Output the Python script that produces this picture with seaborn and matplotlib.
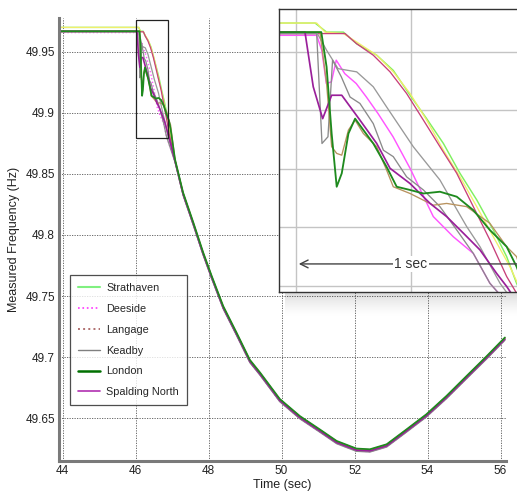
import numpy as np
import pandas as pd
import matplotlib
matplotlib.use("Agg")
import matplotlib.pyplot as plt
from matplotlib.lines import Line2D
from matplotlib.patches import Rectangle
import seaborn as sns

# ---------------- data ----------------
# shared post-transient trajectory (sec, Hz)
TAIL_T = [47.08, 47.30, 47.58, 47.85, 48.08, 48.40, 48.77, 49.13, 49.41, 49.95, 50.50,
          51.05, 51.51, 52.05, 52.42, 52.88, 53.42, 53.97, 54.52, 55.07, 55.62, 56.12]
TAIL_F = [49.861, 49.834, 49.8095, 49.785, 49.766, 49.741, 49.719, 49.697, 49.6866, 49.665, 49.651,
          49.640, 49.6306, 49.6244, 49.6238, 49.6279, 49.640, 49.6525, 49.6675, 49.6838, 49.700, 49.7153]

# pre-event level and first-second transient of each station
STRATHAVEN_T = [43.93, 46.083, 46.133, 46.206, 46.264, 46.351, 46.423, 46.496, 46.568, 46.641, 46.713, 46.786, 46.858, 46.916, 46.959]
STRATHAVEN_F = [49.9699, 49.9699, 49.9668, 49.9668, 49.9628, 49.9589, 49.9537, 49.9452, 49.9372, 49.9287, 49.9185, 49.9094, 49.8991, 49.8900, 49.8809]

YELLOW_T = [43.93, 46.090, 46.126, 46.206, 46.264, 46.351, 46.423, 46.496, 46.568, 46.641, 46.713, 46.786, 46.858, 46.930]
YELLOW_F = [49.9699, 49.9699, 49.9668, 49.9663, 49.9634, 49.9589, 49.9532, 49.9458, 49.9367, 49.9264, 49.9173, 49.9071, 49.8968, 49.8866]

LANGAGE_T = [43.93, 46.213, 46.264, 46.336, 46.409, 46.481, 46.554, 46.626, 46.699, 46.771, 46.843, 46.916]
LANGAGE_F = [49.9663, 49.9663, 49.9628, 49.9589, 49.9532, 49.9458, 49.9367, 49.9276, 49.9185, 49.9071, 49.8957, 49.8832]

DEESIDE_T = [43.93, 46.090, 46.112, 46.132, 46.154, 46.175, 46.212, 46.262, 46.306, 46.357, 46.422, 46.496, 46.597, 46.684, 46.771, 46.843]
DEESIDE_F = [49.9657, 49.9657, 49.9606, 49.9492, 49.9498, 49.9572, 49.9526, 49.9492, 49.9446, 49.9389, 49.9310, 49.9202, 49.9037, 49.8968, 49.8911, 49.8809]

KEADBY_T = [43.93, 46.090, 46.101, 46.113, 46.139, 46.159, 46.197, 46.235, 46.278, 46.336, 46.380, 46.423, 46.481, 46.554, 46.626, 46.699, 46.771, 46.843]
KEADBY_F = [49.9663, 49.9663, 49.9481, 49.9287, 49.9310, 49.9572, 49.9515, 49.9446, 49.9424, 49.9355, 49.9264, 49.9242, 49.9173, 49.9128, 49.9071, 49.8991, 49.8911, 49.8809]

GREY2_T = [43.93, 46.093, 46.133, 46.183, 46.264, 46.336, 46.394, 46.452, 46.510, 46.568, 46.626, 46.684, 46.742, 46.800, 46.887]
GREY2_F = [49.9663, 49.9663, 49.9606, 49.9543, 49.9532, 49.9481, 49.9412, 49.9344, 49.9276, 49.9219, 49.9162, 49.9082, 49.9003, 49.8934, 49.8809]

BROWN_T = [43.93, 46.104, 46.133, 46.155, 46.177, 46.199, 46.228, 46.257, 46.293, 46.351, 46.394, 46.423, 46.496, 46.597, 46.655, 46.742, 46.843, 46.916, 46.959]
BROWN_F = [49.9668, 49.9668, 49.9492, 49.9276, 49.9253, 49.9247, 49.9333, 49.9367, 49.9321, 49.9276, 49.9196, 49.9139, 49.9116, 49.9076, 49.9082, 49.9071, 49.9014, 49.8934, 49.8900]

SPALDING_T = [43.93, 46.039, 46.075, 46.116, 46.155, 46.199, 46.278, 46.351, 46.409, 46.496, 46.583, 46.655, 46.728, 46.800, 46.872, 46.916]
SPALDING_F = [49.9668, 49.9668, 49.9481, 49.9372, 49.9452, 49.9452, 49.9367, 49.9287, 49.9202, 49.9150, 49.9082, 49.9037, 49.8980, 49.8923, 49.8843, 49.8798]

LONDON_T = [43.93, 46.110, 46.133, 46.155, 46.177, 46.199, 46.228, 46.257, 46.293, 46.336, 46.394, 46.438, 46.496, 46.554, 46.626, 46.699, 46.771, 46.843, 46.916, 46.959]
LONDON_F = [49.9668, 49.9668, 49.9549, 49.9321, 49.9139, 49.9185, 49.9321, 49.9372, 49.9333, 49.9287, 49.9207, 49.9139, 49.9128, 49.9116, 49.9122, 49.9105, 49.9059, 49.8991, 49.8934, 49.8866]

# small vertical separation of each trace from the shared trajectory (Hz)
TAIL_SHIFT = {"Strathaven": -0.0008, "Yellow": 0.0, "Deeside": -0.0012, "Langage": 0.0005,
              "Keadby": -0.0015, "Grey2": -0.0010, "Brown": 0.0003, "Spalding North": -0.0005,
              "London": 0.0008}

LEGEND_NAMES = ["Strathaven", "Deeside", "Langage", "Keadby", "London", "Spalding North"]
X_TICKS = [44, 46, 48, 50, 52, 54, 56]
Y_TICKS = [49.65, 49.70, 49.75, 49.80, 49.85, 49.90, 49.95]
Y_TICK_LABELS = ["49.65", "49.7", "49.75", "49.8", "49.85", "49.9", "49.95"]

# ---------------- build table ----------------
series = [
    ("Strathaven", STRATHAVEN_T, STRATHAVEN_F),
    ("Yellow", YELLOW_T, YELLOW_F),
    ("Deeside", DEESIDE_T, DEESIDE_F),
    ("Langage", LANGAGE_T, LANGAGE_F),
    ("Grey2", GREY2_T, GREY2_F),
    ("Keadby", KEADBY_T, KEADBY_F),
    ("Brown", BROWN_T, BROWN_F),
    ("Spalding North", SPALDING_T, SPALDING_F),
    ("London", LONDON_T, LONDON_F),
]
frames = []
for name, tt, ff in series:
    t = list(tt) + TAIL_T
    f = list(ff) + [v + TAIL_SHIFT[name] for v in TAIL_F]
    frames.append(pd.DataFrame({"station": name, "time": t, "freq": f}))
df = pd.concat(frames, ignore_index=True)

styles = {
    "Strathaven":     dict(color="#7ff060", ls="-",  lw=1.1),
    "Yellow":         dict(color="#f2ee6a", ls="-",  lw=1.0),
    "Deeside":        dict(color="#ff55ff", ls=":",  lw=1.1),
    "Langage":        dict(color="#c8407a", ls="-",  lw=1.0),
    "Grey2":          dict(color="#999999", ls="-",  lw=1.0),
    "Keadby":         dict(color="#8a8a8a", ls="-",  lw=1.0),
    "Brown":          dict(color="#b8925e", ls="-",  lw=1.0),
    "Spalding North": dict(color="#9a1f9a", ls="-",  lw=1.3),
    "London":         dict(color="#1e8a1e", ls="-",  lw=1.4),
}
legend_styles = {
    "Strathaven":     dict(color="#80f080", ls="-",  lw=1.5),
    "Deeside":        dict(color="#ff33ff", ls=":",  lw=1.2),
    "Langage":        dict(color="#b07070", ls=":",  lw=1.4),
    "Keadby":         dict(color="#808080", ls="-",  lw=1.0),
    "London":         dict(color="#007000", ls="-",  lw=1.8),
    "Spalding North": dict(color="#b030b0", ls="-",  lw=1.2),
}

# ---------------- figure ----------------
sns.set_theme(style="white")
plt.rcParams["font.family"] = ["Liberation Sans", "DejaVu Sans"]

W, H = 517, 496
fig = plt.figure(figsize=(W / 100, H / 100), dpi=100)
fig.patch.set_facecolor("white")

def fr(l, t, r, b):
    return [l / W, 1 - b / H, (r - l) / W, (b - t) / H]

ax = fig.add_axes(fr(59, 18, 506, 461))
for name, _, _ in series:
    d = df[df.station == name]
    s = styles[name]
    sns.lineplot(data=d, x="time", y="freq", ax=ax, color=s["color"], linestyle=s["ls"],
                 lw=s["lw"] * 0.9, sort=False, estimator=None, legend=False)

ax.set_xlim(43.9, 56.15)
ax.set_ylim(49.615, 49.9776)
ax.set_xticks(X_TICKS)
ax.set_xticklabels([str(v) for v in X_TICKS])
ax.set_yticks(Y_TICKS)
ax.set_yticklabels(Y_TICK_LABELS)
ax.tick_params(axis="both", labelsize=8.5, colors="#222222", length=3, width=0.8, direction="in", pad=3)
ax.grid(True, color="#555555", ls=(0, (1.5, 1.5)), lw=0.6)
for side in ["top", "right"]:
    ax.spines[side].set_visible(False)
for side in ["left", "bottom"]:
    ax.spines[side].set_color("#7a7a7a")
    ax.spines[side].set_linewidth(2.2)
ax.set_xlabel("Time (sec)", fontsize=9, labelpad=1, color="#222222")
ax.set_ylabel("Measured Frequency (Hz)", fontsize=9, labelpad=4, color="#222222")

# zoom box
ax.add_patch(Rectangle((46.0, 49.879), 0.9, 0.097, fill=False, ec="#222222", lw=0.9, zorder=5))

# legend
handles = [Line2D([0], [0], color=legend_styles[n]["color"], ls=legend_styles[n]["ls"],
                  lw=legend_styles[n]["lw"]) for n in LEGEND_NAMES]
leg = fig.legend(handles, LEGEND_NAMES, loc="upper left", bbox_to_anchor=(70 / W, 1 - 275 / H),
                 bbox_transform=fig.transFigure, fontsize=7.8, frameon=True, fancybox=False,
                 edgecolor="#222222", handlelength=2.0, handletextpad=0.6, labelspacing=1.0,
                 borderpad=0.75, borderaxespad=0)
leg.get_frame().set_linewidth(0.9)

# shadow of the inset
for k in range(1, 26):
    fig.patches.append(Rectangle((285 / W, 1 - (292 + k) / H), (W - 285) / W, 1 / H,
                                 transform=fig.transFigure, color="black",
                                 alpha=0.15 * (1 - k / 26) ** 1.5, lw=0, zorder=4))

# inset
axi = fig.add_axes(fr(279.3, 9.3, 540, 292))
axi.set_zorder(10)
for name, _, _ in series:
    d = df[df.station == name]
    s = styles[name]
    sns.lineplot(data=d, x="time", y="freq", ax=axi, color=s["color"], linestyle="-",
                 lw=s["lw"] * 0.95, sort=False, estimator=None, legend=False)
axi.set_xlim(45.9274, 47.061)
axi.set_ylim(49.8779, 49.9746)
axi.set_xticks([46.0, 46.5, 47.0])
axi.set_yticks([49.88, 49.90, 49.92, 49.94, 49.96])
axi.tick_params(left=False, bottom=False, labelleft=False, labelbottom=False)
axi.set_xlabel("")
axi.set_ylabel("")
axi.grid(True, color="#c4c4c4", lw=1.0)
for sp in axi.spines.values():
    sp.set_color("#333333")
    sp.set_linewidth(1.0)
axi.annotate("", xy=(46.0, 49.8875), xytext=(47.0, 49.8875),
             arrowprops=dict(arrowstyle="->", color="#444444", lw=1.0, mutation_scale=14))
axi.text(46.5, 49.8875, "1 sec", ha="center", va="center", fontsize=10, color="#333333",
         bbox=dict(facecolor="white", edgecolor="none", pad=1.0))

fig.savefig("out.png", dpi=100, facecolor="white")
